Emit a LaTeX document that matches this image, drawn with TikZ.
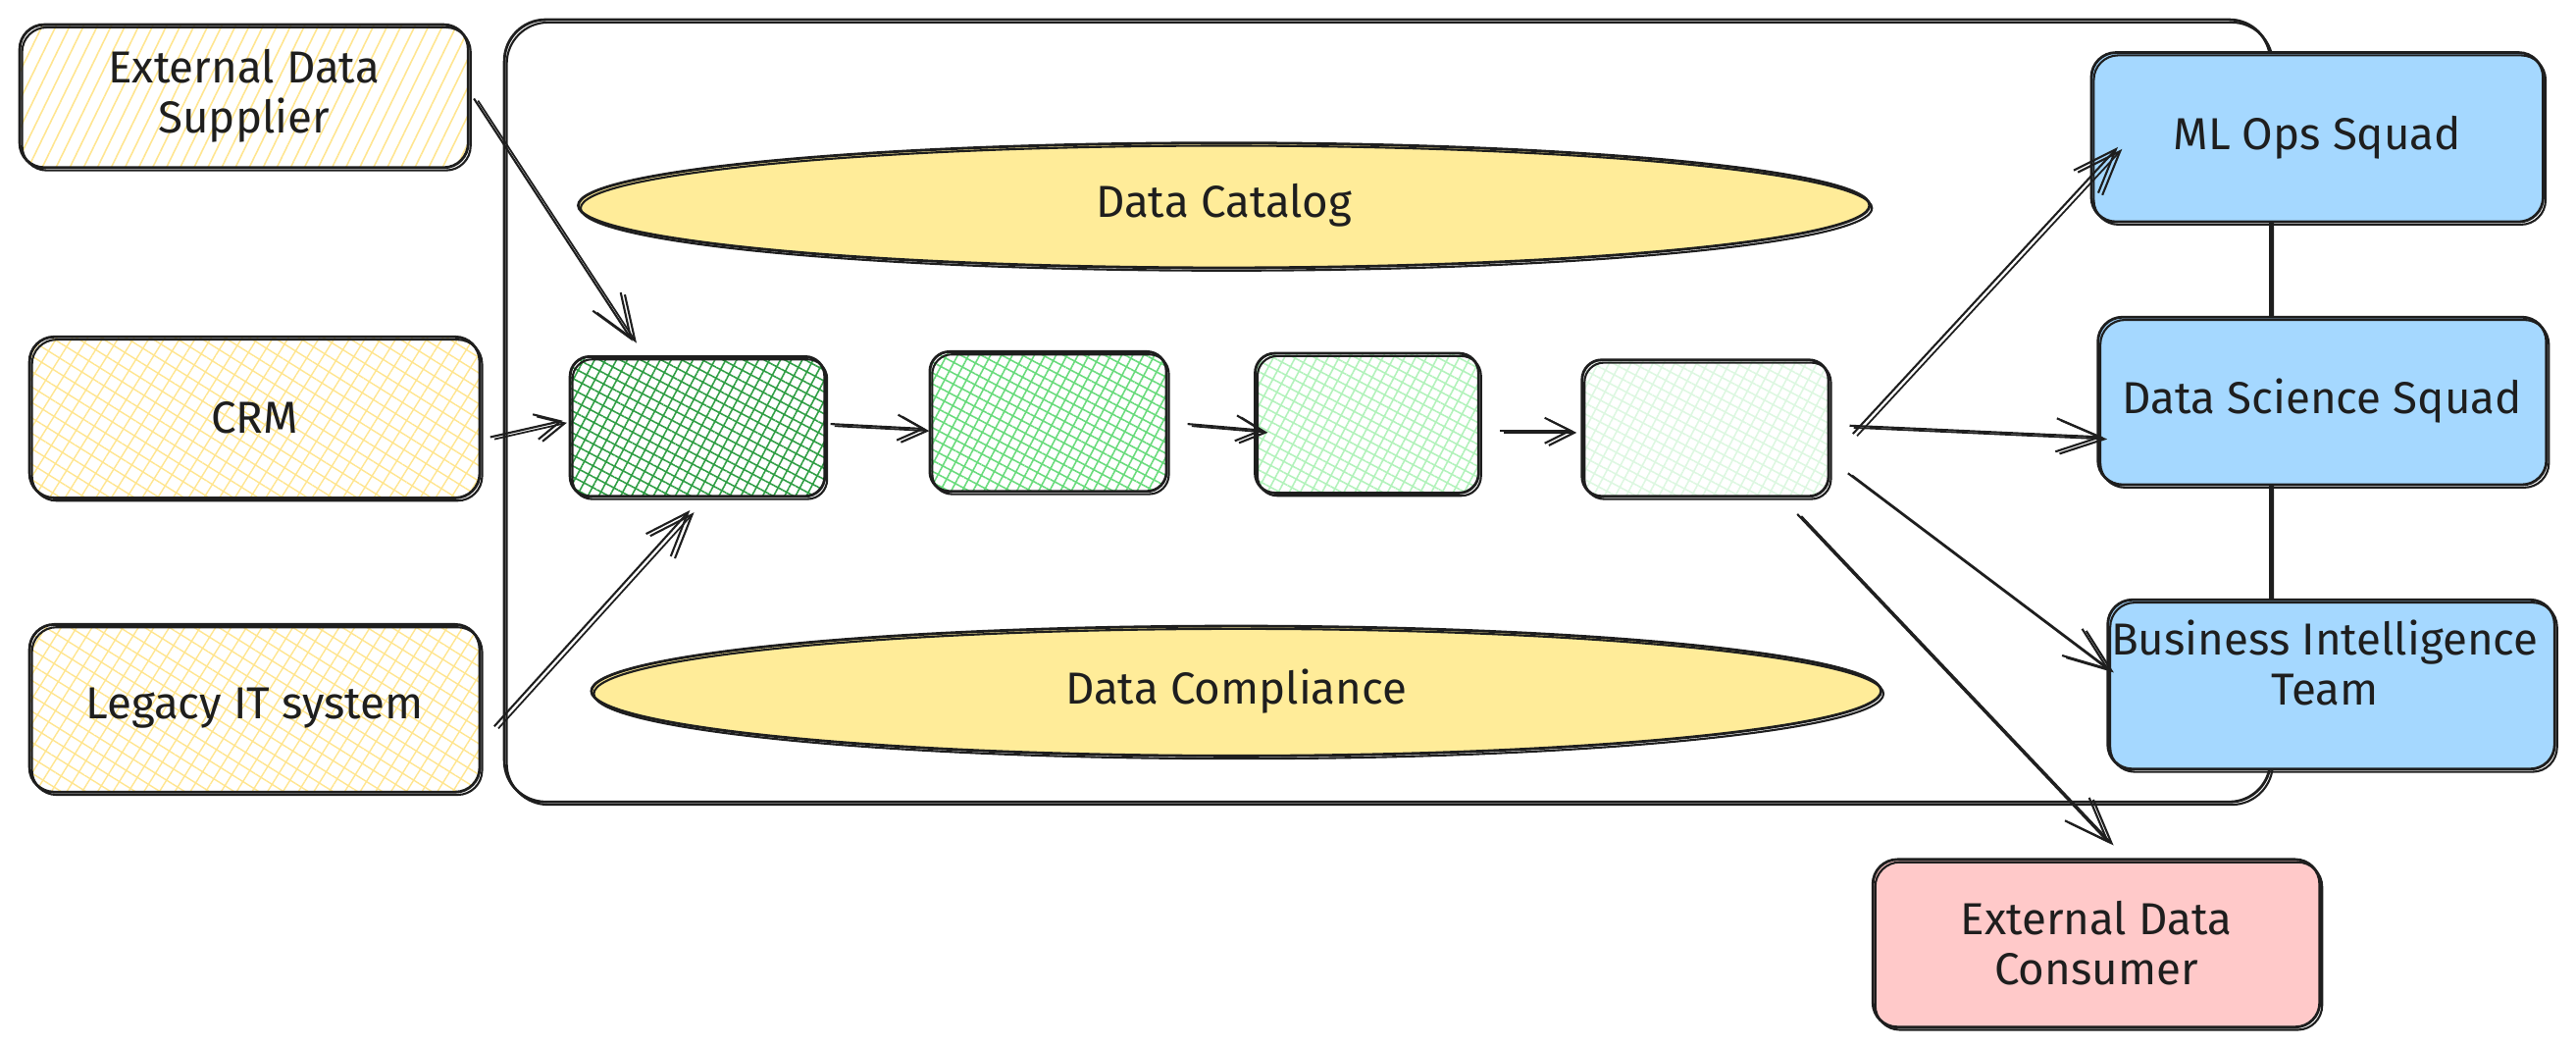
\documentclass[tikz,border=0pt]{standalone}
\usepackage{fontspec}
\setmainfont{Fira Sans}
\usetikzlibrary{arrows.meta,patterns.meta,shapes.geometric,calc}
\definecolor{ink}{HTML}{1E1E1E}
\definecolor{yel}{HTML}{FFEC99}
\definecolor{yelh}{HTML}{FFE58F}
\definecolor{gA}{HTML}{2F9E44}
\definecolor{gB}{HTML}{69DB7C}
\definecolor{gC}{HTML}{B2F2BB}
\definecolor{gD}{HTML}{DDF7E1}
\definecolor{blu}{HTML}{A5D8FF}
\definecolor{pnk}{HTML}{FFC9C9}
\def\U{0.016747cm}
\begin{document}
\begin{tikzpicture}[x=\U, y=-\U,
  sk/.style={draw=ink, line width=0.8pt,
    postaction={draw=ink, line width=0.6pt, transform canvas={shift={(0.7pt,-0.8pt)}}}},
  lbl/.style={font=\fontsize{13}{14.5}\selectfont, text=ink, align=center},
  box/.style={sk, rectangle, rounded corners=0.25cm, inner sep=0pt, lbl},
  gbox/.style={sk, rectangle, rounded corners=0.2cm, inner sep=0pt},
  ell/.style={sk, ellipse, fill=yel, inner sep=0pt, lbl},
  yhatch/.style={pattern={Lines[angle=64,distance=3.6pt,line width=0.45pt]}, pattern color=yelh},
  ycross/.style={pattern={Hatch[angle=58,distance=3.8pt,line width=0.4pt]}, pattern color=yelh},
  gcross/.style={pattern={Hatch[angle=62,distance=2.8pt,line width=0.45pt]}, pattern color=#1},
  arr/.style={draw=ink, line width=0.6pt, -{Straight Barb[length=0.45cm,width=0.34cm,line width=0.6pt]},
    postaction={draw=ink, line width=0.5pt, transform canvas={shift={(1.2pt,-0.6pt)}}}},
  sarr/.style={arr, -{Straight Barb[length=0.26cm,width=0.26cm,line width=0.6pt]}}
]
\useasboundingbox (0,0) rectangle (1568,637);

% platform container
\node[sk, rectangle, rounded corners=0.42cm, minimum width=1075*\U, minimum height=476*\U] (platform) at (844.5,250) {};

% sources
\node[box, yhatch, minimum width=273*\U, minimum height=87*\U] (eds) at (148.5,58.5) {External Data\\Supplier};
\node[box, ycross, minimum width=274*\U, minimum height=98*\U] (crm) at (155,254) {CRM};
\node[box, ycross, minimum width=274*\U, minimum height=102*\U] (leg) at (155,431) {Legacy IT system};

% ellipses
\node[ell, minimum width=786*\U, minimum height=76*\U] (cat) at (745,125) {Data Catalog};
\node[ell, minimum width=785*\U, minimum height=79*\U] (comp) at (752.5,420.5) {Data Compliance};

% pipeline stages
\node[gbox, gcross=gA, minimum width=155*\U, minimum height=85*\U] (g1) at (424.5,259.5) {};
\node[gbox, gcross=gB, minimum width=144*\U, minimum height=85*\U] (g2) at (638,256.5) {};
\node[gbox, gcross=gC, minimum width=136*\U, minimum height=85*\U] (g3) at (832,257.5) {};
\node[gbox, gcross=gD, minimum width=150*\U, minimum height=83*\U] (g4) at (1038,260.5) {};

% consumers
\node[box, fill=blu, minimum width=275*\U, minimum height=103*\U] (ml) at (1410.5,83.5) {ML Ops Squad};
\node[box, fill=blu, minimum width=273*\U, minimum height=102*\U] (ds) at (1413.5,244) {Data Science Squad};
\node[box, fill=blu, minimum width=272*\U, minimum height=103*\U] (bi) at (1419,416.5) {};
\node[lbl] (bitext) at ($(bi.center)+(-4,-13)$) {Business Intelligence\\Team};
\node[box, fill=pnk, minimum width=272*\U, minimum height=102*\U] (edc) at (1276,574) {External Data\\Consumer};

% arrows into pipeline
\draw[arr] ($(eds.east)+(3,1.5)$) -- ($(g1.north)+(-39.5,-9)$);
\draw[sarr] ($(crm.east)+(6,12)$) -- ($(g1.west)+(-4,-3.5)$);
\draw[arr] ($(leg.east)+(8,11)$) -- ($(g1.south)+(-4.5,8)$);

% pipeline arrows
\draw[sarr] ($(g1.east)+(3,-1.5)$) -- ($(g2.west)+(-2,4.5)$);
\draw[sarr] ($(g2.east)+(12,1.5)$) -- ($(g3.west)+(6,4.5)$);
\draw[sarr] ($(g3.east)+(12,4.5)$) -- ($(g4.west)+(-5,1.5)$);

% outputs
\draw[arr] ($(g4.east)+(14,3.5)$) -- ($(ml.west)+(17,6)$);
\draw[arr] ($(g4.east)+(12,-1.5)$) -- ($(ds.west)+(4,22)$);
\draw[arr] ($(g4.east)+(11,27.5)$) -- ($(bi.west)+(2,-8.5)$);
\draw[arr] ($(g4.south)+(56,10)$) -- ($(edc.north)+(8,-9)$);
\end{tikzpicture}
\end{document}
